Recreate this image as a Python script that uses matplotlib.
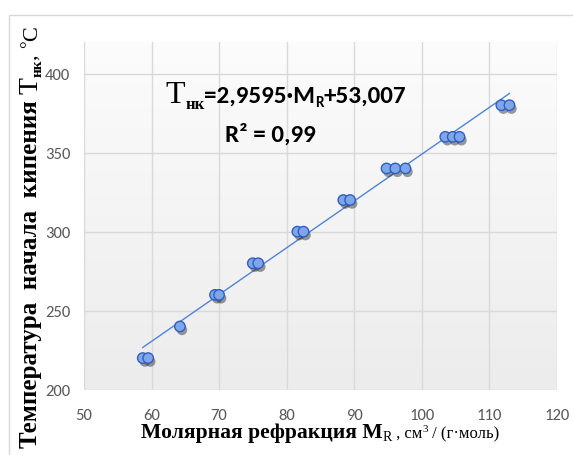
import matplotlib
matplotlib.use('Agg')
import matplotlib.pyplot as plt
import matplotlib.patheffects as pe
from matplotlib.patches import Rectangle
from matplotlib.transforms import IdentityTransform
from matplotlib.colors import LinearSegmentedColormap
from matplotlib import font_manager
import numpy as np

# molar refraction M_R, cm3/(g*mol)
mr = [58.7, 59.5, 64.2, 69.4, 70.0, 75.0, 75.8, 81.6, 82.5, 88.4, 89.4,
      94.8, 96.1, 97.6, 103.5, 104.6, 105.6, 111.8, 113.0]
# initial boiling temperature T_nk, C
t_nk = [220, 220, 240, 260, 260, 280, 280, 300, 300, 320, 320,
        340, 340, 340, 360, 360, 360, 380, 380]
slope = 2.9595
intercept = 53.007
r2_text = '0,99'
x_ticks = [50, 60, 70, 80, 90, 100, 110, 120]
y_ticks = [200, 250, 300, 350, 400]

installed = {f.name for f in font_manager.fontManager.ttflist}
narrow = next((n for n in ['Carlito', 'Liberation Sans Narrow', 'Liberation Sans']
               if n in installed), 'DejaVu Sans')
SERIF = 'Liberation Serif'


def draw_pieces(fig, x, y, pieces, rotation=0, center=True):
    """Draw text pieces one after another; x, y is the baseline point in pixels."""
    r = fig.canvas.get_renderer()
    made = []
    for s, dy, kw in pieces:
        t = fig.text(0, 0, s, transform=IdentityTransform(), rotation=rotation,
                     rotation_mode='anchor', ha='left', va='baseline', **kw)
        bb = t.get_window_extent(r)
        made.append((t, dy, bb.height if rotation else bb.width))
    start = (y if rotation else x)
    if center:
        start -= sum(m[2] for m in made) / 2
    for t, dy, w in made:
        if rotation:
            t.set_position((x - dy, start))
        else:
            t.set_position((start, y + dy))
        start += w


fig = plt.figure(figsize=(5.73, 4.56), dpi=100)
fig.patch.set_facecolor('white')
fig.patches.append(Rectangle((9, -5), 600, 450 - 5, transform=IdentityTransform(),
                             fill=False, edgecolor='#d9d9d9', lw=1))

ax = fig.add_axes([84 / 573, 1 - 390.7 / 456, (556.7 - 84) / 573, (390.7 - 43) / 456])
bg = LinearSegmentedColormap.from_list('bg', ['#ececec', '#fcfcfc'])
ax.imshow(np.linspace(0, 1, 64).reshape(-1, 1), cmap=bg, origin='lower',
          extent=[0, 1, 0, 1], transform=ax.transAxes, aspect='auto', zorder=0)

xs = np.array([min(mr), max(mr)])
ax.plot(xs, slope * xs + intercept, color='#4f84d8', lw=1.0, zorder=3)
ax.plot(mr, t_nk, 'o', ms=7.5, mfc='#7fa6ea', mec='#2f5fbf', mew=1.0, zorder=4,
        path_effects=[pe.SimplePatchShadow(offset=(1.5, -2.5), shadow_rgbFace='#222222', alpha=0.45),
                      pe.Normal()])

ax.set_xlim(50, 120)
ax.set_ylim(200, 420)
ax.set_xticks(x_ticks)
ax.set_yticks(y_ticks)
ax.grid(True, color='#d9d9d9', lw=1)
ax.set_axisbelow(True)
for s in ax.spines.values():
    s.set_visible(False)
ax.tick_params(length=0, labelcolor='#595959', labelsize=12)
ax.tick_params(axis='x', pad=13)
ax.tick_params(axis='y', pad=10)
for lab in ax.get_xticklabels() + ax.get_yticklabels():
    lab.set_family(narrow)

H = 456
# regression equation
draw_pieces(fig, 286, H - 103, [
    ('T', 0, dict(family=SERIF, fontsize=23, color='black')),
    ('нк', -6, dict(family=SERIF, fontsize=12, weight='bold', color='black')),
    ('=2,9595·M', 0, dict(family=narrow, fontsize=18, weight='bold', color='black')),
    ('R', -4, dict(family=narrow, fontsize=11, weight='bold', color='black')),
    ('+53,007', 0, dict(family=narrow, fontsize=18, weight='bold', color='black')),
])
draw_pieces(fig, 270, H - 142, [
    ('R² = ' + r2_text, 0, dict(family=narrow, fontsize=18, weight='bold', color='black')),
])

# x axis title
draw_pieces(fig, 141, H - 438, [
    ('Молярная рефракция M', 0, dict(family=SERIF, fontsize=15.6, weight='bold')),
    ('R', -3, dict(family=SERIF, fontsize=10)),
    (' , см', 0, dict(family=SERIF, fontsize=12)),
    ('3', 6, dict(family=SERIF, fontsize=8)),
    (' / (г·моль)', 0, dict(family=SERIF, fontsize=12)),
], center=False)

# y axis title (rotated)
draw_pieces(fig, 37, H - 448, [
    ('Температура  начала  кипения ', 0, dict(family=SERIF, fontsize=18, weight='bold')),
    ('T', 0, dict(family=SERIF, fontsize=20)),
    ('нк', -5, dict(family=SERIF, fontsize=11, weight='bold')),
    (', ', 0, dict(family=SERIF, fontsize=16)),
    ('°', 4, dict(family=SERIF, fontsize=14)),
    ('C', 0, dict(family=SERIF, fontsize=16)),
], rotation=90, center=False)

fig.savefig('out.png', dpi=100)
